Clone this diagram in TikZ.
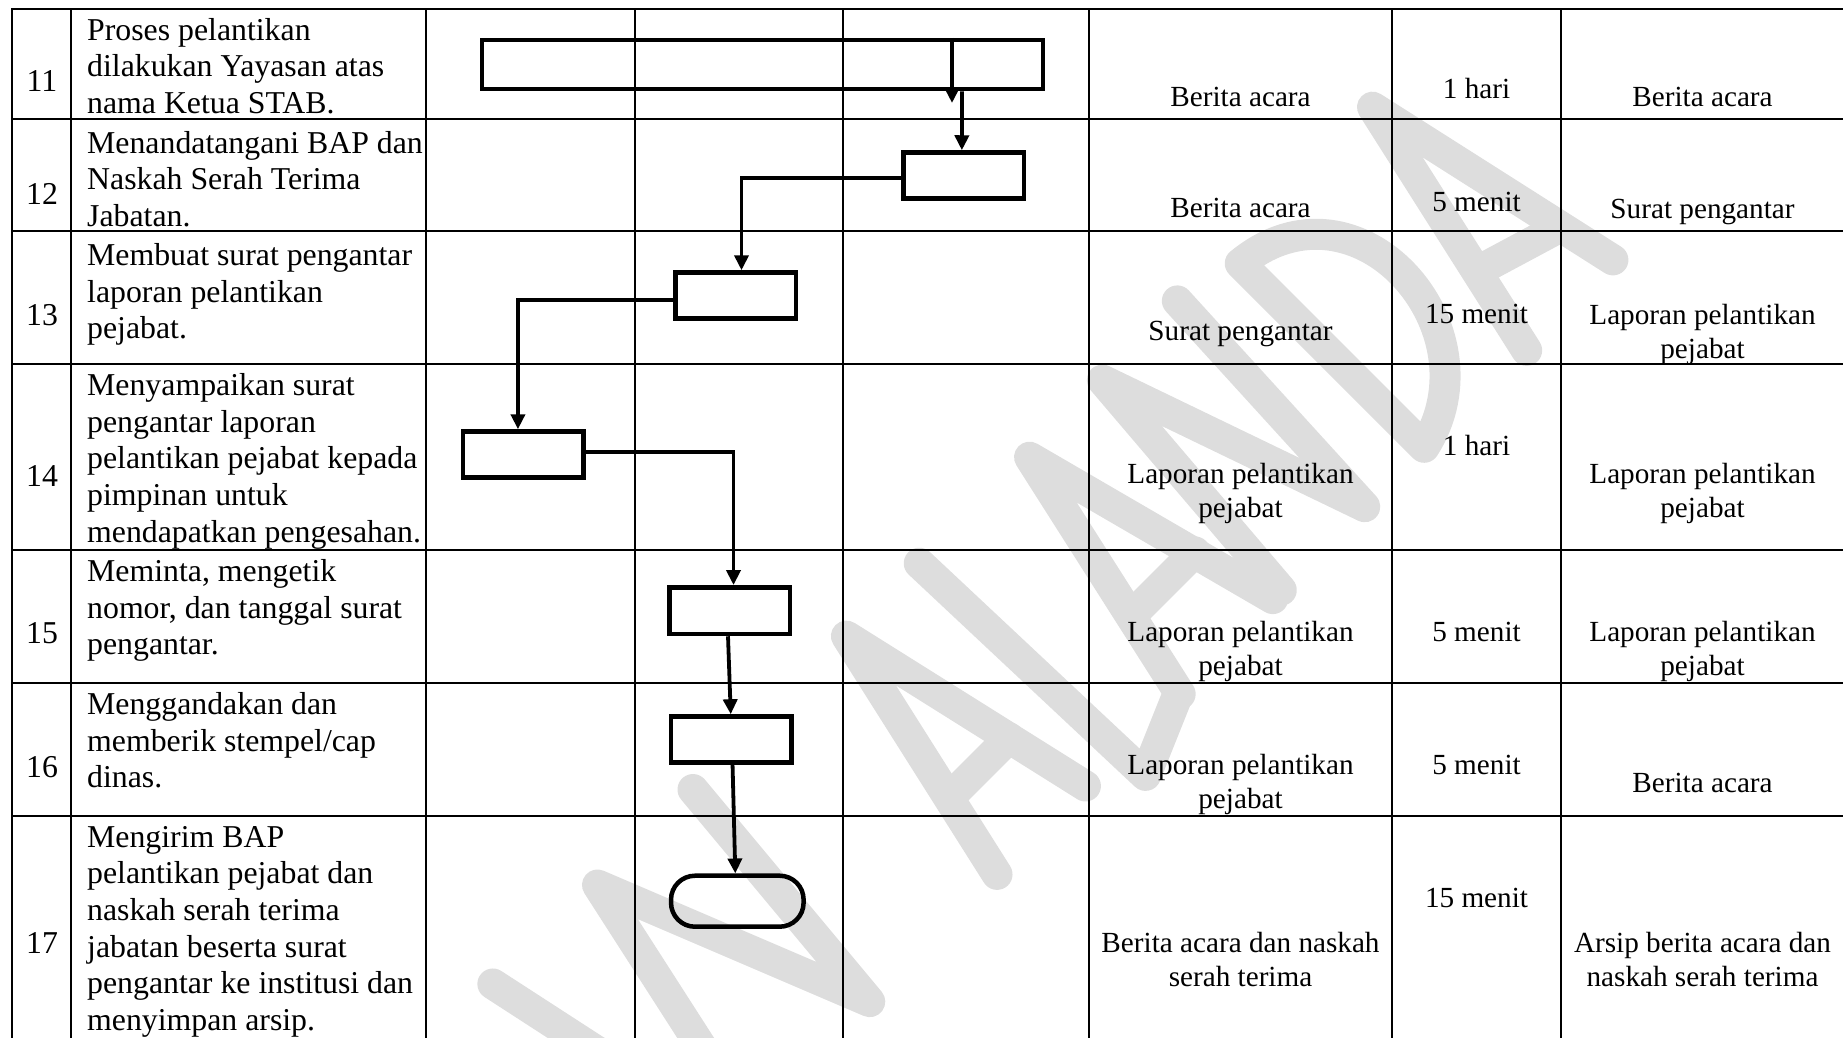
\documentclass[tikz,border=0pt]{standalone}
\usepackage{fontspec}
\setmainfont{Liberation Serif}
\usetikzlibrary{arrows.meta,calc}
\definecolor{wm}{RGB}{221,221,221}
\newcommand{\lfont}{\fontsize{31.8}{36.6}\selectfont}
\newcommand{\rfont}{\fontsize{29.2}{34}\selectfont}
\begin{document}
\begin{tikzpicture}[x=1pt,y=-1pt,
  gridline/.style={line width=2.7pt,black,line cap=rect},
  wmline/.style={draw=wm,line width=31pt,line cap=round,line join=round},
  procbox/.style={draw,line width=4.5pt,rectangle,inner sep=0pt,minimum width=120.5pt,minimum height=46pt},
  termbox/.style={draw,line width=4.5pt,rectangle,rounded corners=24pt,inner sep=0pt,minimum width=132.6pt,minimum height=51pt},
  conn/.style={line width=3.8pt,-{Triangle[length=15pt,width=14pt]}},
  numtxt/.style={anchor=base,inner sep=0pt,font=\lfont},
  ltxt/.style={anchor=north west,inner sep=0pt,align=left,font=\lfont},
  rtxt/.style={anchor=north,inner sep=0pt,align=center,font=\rfont}]

\useasboundingbox (0,0) rectangle (1843,1037);

% watermark
\begin{scope}
\clip (0,0) rectangle (1843,1037);
\begin{scope}[shift={(0pt,-1037pt)},x={(0.7071pt,0.7071pt)},y={(0.7071pt,-0.7071pt)}]
\draw[wmline] (386,311) -- (420,470);
\draw[wmline] (470,590) -- (530,315) -- (640,590) -- (665,315);
\draw[wmline] (820,590) -- (882,315) -- (945,590);
\draw[wmline] (841,502) -- (925,502);
\draw[wmline] (985,315) -- (995,625) -- (1072,592);
\draw[wmline] (1077,592) -- (1138,318) -- (1210,590);
\draw[wmline] (1098,502) -- (1188,502);
\draw[wmline] (1222,590) -- (1244,315) -- (1340,590) -- (1353,312);
\draw[wmline] (1424,590) -- (1424,330) .. controls (1575,345) and (1560,560) .. (1424,590);
\draw[wmline] (1565,594) -- (1628,313) -- (1690,591);
\draw[wmline] (1592,505) -- (1668,528);
\end{scope}
\end{scope}

% table grid
\foreach \gx in {12,71,426,635,843,1089,1392,1561}
  \draw[gridline] (\gx,9) -- (\gx,1040);
\foreach \gy in {9,119,231,364,550,683,816}
  \draw[gridline] (12,\gy) -- (1846,\gy);

% row numbers
\node[numtxt] (n11) at (42,91) {11};
\node[numtxt] (n12) at (42,204) {12};
\node[numtxt] (n13) at (42,325) {13};
\node[numtxt] (n14) at (42,486) {14};
\node[numtxt] (n15) at (42,643) {15};
\node[numtxt] (n16) at (42,777) {16};
\node[numtxt] (n17) at (42,953) {17};

% activity descriptions
\node[ltxt] (d11) at (87,14.4) {\strut Proses pelantikan\\dilakukan Yayasan atas\\nama Ketua STAB.};
\node[ltxt] (d12) at (87,127.4) {\strut Menandatangani BAP dan\\Naskah Serah Terima\\Jabatan.};
\node[ltxt] (d13) at (87,239.9) {\strut Membuat surat pengantar\\laporan pelantikan\\pejabat.};
\node[ltxt] (d14) at (87,369.9) {\strut Menyampaikan surat\\pengantar laporan\\pelantikan pejabat kepada\\pimpinan untuk\\mendapatkan pengesahan.};
\node[ltxt] (d15) at (87,555.9) {\strut Meminta, mengetik\\nomor, dan tanggal surat\\pengantar.};
\node[ltxt] (d16) at (87,688.9) {\strut Menggandakan dan\\memberik stempel/cap\\dinas.};
\node[ltxt] (d17) at (87,821.4) {\strut Mengirim BAP\\pelantikan pejabat dan\\naskah serah terima\\jabatan beserta surat\\pengantar ke institusi dan\\menyimpan arsip.};

% column 5: kelengkapan
\node[rtxt] (k11) at (1240.5,82.2) {\strut Berita acara};
\node[rtxt] (k12) at (1240.5,193.7) {\strut Berita acara};
\node[rtxt] (k13) at (1240.5,316.2) {\strut Surat pengantar};
\node[rtxt] (k14) at (1240.5,459.2) {\strut Laporan pelantikan\\pejabat};
\node[rtxt] (k15) at (1240.5,617.2) {\strut Laporan pelantikan\\pejabat};
\node[rtxt] (k16) at (1240.5,750.2) {\strut Laporan pelantikan\\pejabat};
\node[rtxt] (k17) at (1240.5,928.2) {\strut Berita acara dan naskah\\serah terima};

% column 6: waktu
\node[rtxt] (w11) at (1476.5,74.7) {\strut 1 hari};
\node[rtxt] (w12) at (1476.5,187.2) {\strut 5 menit};
\node[rtxt] (w13) at (1476.5,299.2) {\strut 15 menit};
\node[rtxt] (w14) at (1476.5,431.2) {\strut 1 hari};
\node[rtxt] (w15) at (1476.5,617.2) {\strut 5 menit};
\node[rtxt] (w16) at (1476.5,750.2) {\strut 5 menit};
\node[rtxt] (w17) at (1476.5,883.2) {\strut 15 menit};

% column 7: output
\node[rtxt] (o11) at (1702.5,82.2) {\strut Berita acara};
\node[rtxt] (o12) at (1702.5,194.2) {\strut Surat pengantar};
\node[rtxt] (o13) at (1702.5,300.2) {\strut Laporan pelantikan\\pejabat};
\node[rtxt] (o14) at (1702.5,459.2) {\strut Laporan pelantikan\\pejabat};
\node[rtxt] (o15) at (1702.5,617.2) {\strut Laporan pelantikan\\pejabat};
\node[rtxt] (o16) at (1702.5,768.2) {\strut Berita acara};
\node[rtxt] (o17) at (1702.5,928.2) {\strut Arsip berita acara dan\\naskah serah terima};

% flow shapes
\node[procbox,minimum width=561pt,minimum height=49pt] (B11) at (762.5,64.5) {};
\node[procbox] (B12) at (963.85,175.5) {};
\node[procbox] (B13) at (735.7,295.5) {};
\node[procbox] (B14) at (523.45,454.5) {};
\node[procbox,minimum height=46.7pt] (B15) at (729.7,610.65) {};
\node[procbox] (B16) at (731.25,739.5) {};
\node[termbox] (T17) at (737.3,901.2) {};

% connectors
\coordinate (c1end) at (952,103);
\draw[conn] ([xshift=189.5pt]B11.north) -- (c1end);
\draw[conn] ([xshift=199.5pt]B11.south) -- ([xshift=-2pt]B12.north);
\draw[conn] ([yshift=-2.5pt]B12.west) -| ([xshift=5.8pt]B13.north);
\draw[conn] ([yshift=-4.5pt]B13.west) -| ([xshift=-5.5pt]B14.north);
\draw[conn] ([yshift=2.8pt]B14.east) -| ([xshift=3.8pt]B15.north);
\draw[conn] ([xshift=-1.7pt]B15.south) -- ([xshift=-0.5pt]B16.north);
\draw[conn] ([xshift=1.3pt]B16.south) -- ([xshift=-2pt]T17.north);
\end{tikzpicture}
\end{document}
